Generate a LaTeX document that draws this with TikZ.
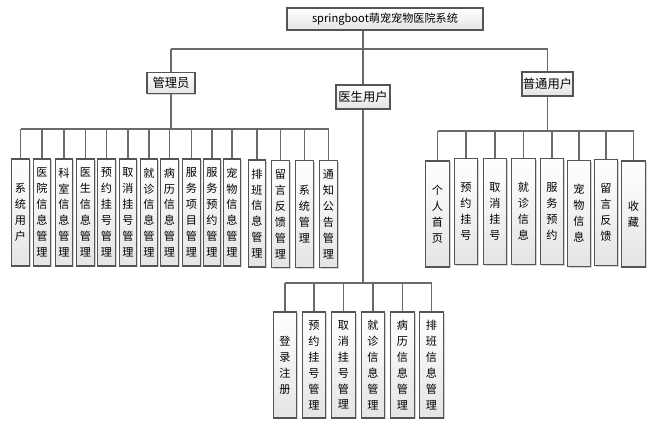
\documentclass[tikz,border=0pt]{standalone}
\usepackage{fontspec}
\setmainfont{Noto Sans CJK SC}
\usepackage{tikz}
\usetikzlibrary{shadows,positioning}
\definecolor{boxline}{HTML}{555555}
\definecolor{linkgray}{HTML}{6A6A6A}
\definecolor{boxfill}{HTML}{E4E4E4}

\begin{document}
\begin{tikzpicture}[x=0.03cm, y=-0.03cm,
    box/.style={rectangle, draw=boxline, line width=0.9pt, top color=white, bottom color=boxfill,
        drop shadow={shadow xshift=1.2pt, shadow yshift=-1.2pt, opacity=0.35}, inner sep=0pt},
    role/.style={box, minimum height=0.62cm, font=\fontsize{10.5}{12}\selectfont},
    fadm/.style={box, minimum width=0.53cm, minimum height=3.21cm, align=center,
        font=\fontsize{9.5}{13.6}\selectfont},
    fusr/.style={box, minimum width=0.71cm, minimum height=3.18cm, align=center,
        font=\fontsize{9.5}{13.6}\selectfont},
    link/.style={draw=linkgray, line width=1.1pt}
]
    \useasboundingbox (0,0) rectangle (671,424);

    % System and roles
    \node[box, minimum width=5.88cm, minimum height=0.66cm, font=\fontsize{9.5}{11}\selectfont] (root) at (385,19) {springboot萌宠宠物医院系统};
    \node[role, minimum width=1.44cm] (admin) at (171,83) {管理员};
    \node[role, minimum width=1.62cm, minimum height=0.72cm] (doc) at (363,97) {医生用户};
    \node[role, minimum width=1.53cm, minimum height=0.72cm] (user) at (547.5,84) {普通用户};

    % Administrator functions
    \node[fadm] (a1) at (20.5,212.5) {系\\统\\用\\户};
    \node[fadm] (a2) at (42,212.5) {医\\院\\信\\息\\管\\理};
    \node[fadm] (a3) at (64,212.5) {科\\室\\信\\息\\管\\理};
    \node[fadm] (a4) at (85.5,212.5) {医\\生\\信\\息\\管\\理};
    \node[fadm] (a5) at (106.5,212.5) {预\\约\\挂\\号\\管\\理};
    \node[fadm] (a6) at (128,212.5) {取\\消\\挂\\号\\管\\理};
    \node[fadm] (a7) at (149,212.5) {就\\诊\\信\\息\\管\\理};
    \node[fadm] (a8) at (169.5,212.5) {病\\历\\信\\息\\管\\理};
    \node[fadm] (a9) at (191.5,212.5) {服\\务\\项\\目\\管\\理};
    \node[fadm] (a10) at (212,212.5) {服\\务\\预\\约\\管\\理};
    \node[fadm] (a11) at (232,212.5) {宠\\物\\信\\息\\管\\理};
    \node[fadm] (a12) at (257,213.5) {排\\班\\信\\息\\管\\理};
    \node[fadm] (a13) at (280.5,214) {留\\言\\反\\馈\\管\\理};
    \node[fadm] (a14) at (304.5,214) {系\\统\\管\\理};
    \node[fadm] (a15) at (328.5,214) {通\\知\\公\\告\\管\\理};

    % User functions
    \node[fusr] (u1) at (437.5,214) {个\\人\\首\\页};
    \node[fusr] (u2) at (466,211.5) {预\\约\\挂\\号};
    \node[fusr] (u3) at (495,211.5) {取\\消\\挂\\号};
    \node[fusr] (u4) at (523.5,211.5) {就\\诊\\信\\息};
    \node[fusr] (u5) at (552,211.5) {服\\务\\预\\约};
    \node[fusr] (u6) at (579,213.5) {宠\\物\\信\\息};
    \node[fusr] (u7) at (606,212.5) {留\\言\\反\\馈};
    \node[fusr] (u8) at (633.5,214) {收\\藏};

    % Doctor functions
    \node[fusr] (d1) at (285,365) {登\\录\\注\\册};
    \node[fusr] (d2) at (314,365) {预\\约\\挂\\号\\管\\理};
    \node[fusr] (d3) at (343.5,365) {取\\消\\挂\\号\\管\\理};
    \node[fusr] (d4) at (373,365) {就\\诊\\信\\息\\管\\理};
    \node[fusr] (d5) at (402.5,365) {病\\历\\信\\息\\管\\理};
    \node[fusr] (d6) at (431.5,365) {排\\班\\信\\息\\管\\理};

    % Top level links
    \coordinate (topbus) at (0,49);
    \draw[link] (root.south -| doc.north) -- (doc.north);
    \draw[link] (topbus -| admin.north) -- (topbus -| user.north);
    \draw[link] (topbus -| admin.north) -- (admin.north);
    \draw[link] (topbus -| user.north) -- (user.north);

    % Administrator links
    \coordinate (abus) at (0,129);
    \draw[link] (admin.south) -- (abus -| admin.south);
    \draw[link] (abus -| a1.north) -- (abus -| a15.north);
    \draw[link] (abus -| a1.north) -- (a1.north);
    \draw[link] (abus -| a2.north) -- (a2.north);
    \draw[link] (abus -| a3.north) -- (a3.north);
    \draw[link] (abus -| a4.north) -- (a4.north);
    \draw[link] (abus -| a5.north) -- (a5.north);
    \draw[link] (abus -| a6.north) -- (a6.north);
    \draw[link] (abus -| a7.north) -- (a7.north);
    \draw[link] (abus -| a8.north) -- (a8.north);
    \draw[link] (abus -| a9.north) -- (a9.north);
    \draw[link] (abus -| a10.north) -- (a10.north);
    \draw[link] (abus -| a11.north) -- (a11.north);
    \draw[link] (abus -| a12.north) -- (a12.north);
    \draw[link] (abus -| a13.north) -- (a13.north);
    \draw[link] (abus -| a14.north) -- (a14.north);
    \draw[link] (abus -| a15.north) -- (a15.north);

    % User links
    \coordinate (ubus) at (0,131);
    \draw[link] (user.south) -- (ubus -| user.south);
    \draw[link] (ubus -| u1.north) -- (ubus -| u8.north);
    \draw[link] (ubus -| u1.north) -- (u1.north);
    \draw[link] (ubus -| u2.north) -- (u2.north);
    \draw[link] (ubus -| u3.north) -- (u3.north);
    \draw[link] (ubus -| u4.north) -- (u4.north);
    \draw[link] (ubus -| u5.north) -- (u5.north);
    \draw[link] (ubus -| u6.north) -- (u6.north);
    \draw[link] (ubus -| u7.north) -- (u7.north);
    \draw[link] (ubus -| u8.north) -- (u8.north);

    % Doctor links
    \coordinate (dbus) at (0,283);
    \draw[link] (doc.south) -- (dbus -| doc.south);
    \draw[link] (dbus -| d1.north) -- (dbus -| d6.north);
    \draw[link] (dbus -| d1.north) -- (d1.north);
    \draw[link] (dbus -| d2.north) -- (d2.north);
    \draw[link] (dbus -| d3.north) -- (d3.north);
    \draw[link] (dbus -| d4.north) -- (d4.north);
    \draw[link] (dbus -| d5.north) -- (d5.north);
    \draw[link] (dbus -| d6.north) -- (d6.north);

\end{tikzpicture}
\end{document}
